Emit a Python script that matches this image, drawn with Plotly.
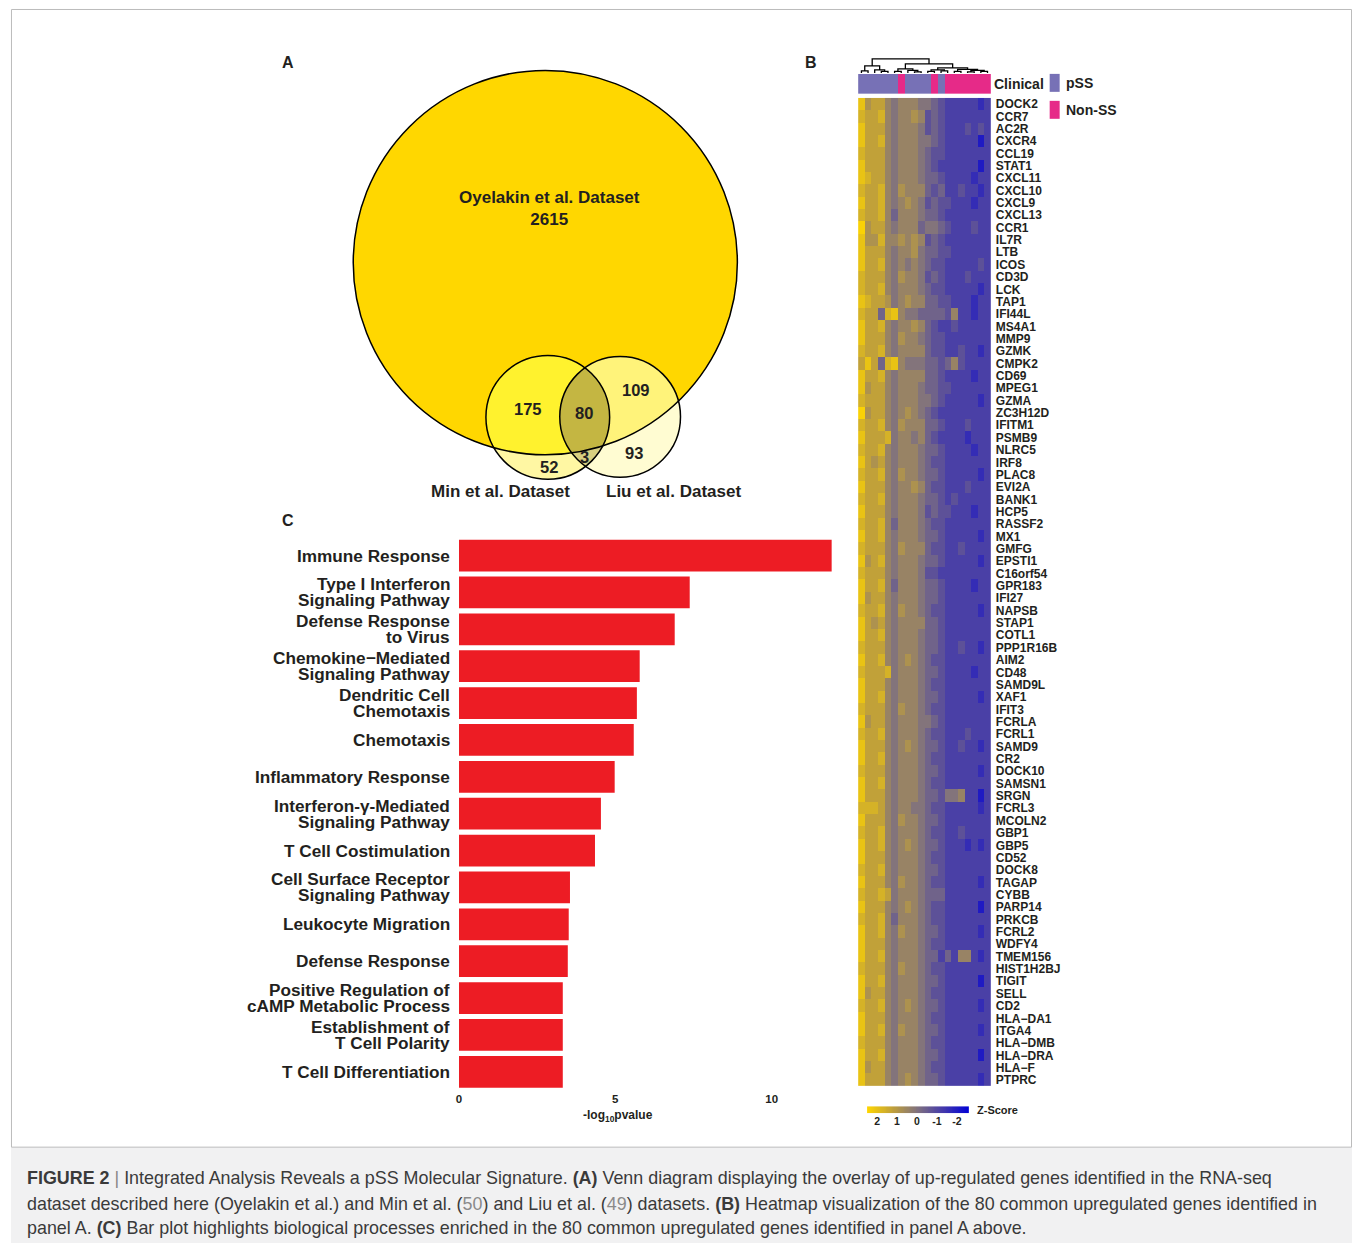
import numpy as np
import plotly.graph_objects as go

W, H = 1354, 1244
FONT = "Liberation Sans, Arial, sans-serif"
INK = "#231f20"


def fx(p):
    return p / W


def fy(p):
    return 1 - p / H


# ---------------- Panel A: three-way Venn ----------------
SET_NAMES = ["Oyelakin et al. Dataset", "Min et al. Dataset", "Liu et al. Dataset"]
OYELAKIN_ONLY = 2615
# region -> gene count, (in Oyelakin, in Min, in Liu)
REGION_KEYS = [(1, 1, 0), (1, 0, 1), (1, 1, 1), (0, 1, 0), (0, 0, 1), (0, 1, 1)]
REGION_COUNTS = [175, 109, 80, 52, 93, 3]
REGION_COLORS = ["#fff22e", "#fff37a", "#c4b642", "#fff7a3", "#fffcd2", "#d8cf80"]
REGION_LABEL_XY = [(526, 409), (634, 390), (582, 413), (547, 467), (632, 453), (583, 457)]
# circle geometry (x, y, r) in the Venn panel's pixel frame
CIRCLES = [(543.5, 262.0, 192.5), (546.0, 417.0, 62.0), (618.5, 416.5, 60.5)]
BIG_FILL = "#ffd700"

# ---------------- Panel B: heatmap ----------------
GENES = ["DOCK2", "CCR7", "AC2R", "CXCR4", "CCL19", "STAT1", "CXCL11", "CXCL10", "CXCL9",
         "CXCL13", "CCR1", "IL7R", "LTB", "ICOS", "CD3D", "LCK", "TAP1", "IFI44L", "MS4A1",
         "MMP9", "GZMK", "CMPK2", "CD69", "MPEG1", "GZMA", "ZC3H12D", "IFITM1", "PSMB9",
         "NLRC5", "IRF8", "PLAC8", "EVI2A", "BANK1", "HCP5", "RASSF2", "MX1", "GMFG",
         "EPSTI1", "C16orf54", "GPR183", "IFI27", "NAPSB", "STAP1", "COTL1", "PPP1R16B",
         "AIM2", "CD48", "SAMD9L", "XAF1", "IFIT3", "FCRLA", "FCRL1", "SAMD9", "CR2",
         "DOCK10", "SAMSN1", "SRGN", "FCRL3", "MCOLN2", "GBP1", "GBP5", "CD52", "DOCK8",
         "TAGAP", "CYBB", "PARP14", "PRKCB", "FCRL2", "WDFY4", "TMEM156", "HIST1H2BJ",
         "TIGIT", "SELL", "CD2", "HLA\u2212DA1", "ITGA4", "HLA\u2212DMB", "HLA\u2212DRA",
         "HLA\u2212F", "PTPRC"]

# clinical group of each sample column (dendrogram order)
CLINICAL = ["pSS"] * 6 + ["Non-SS"] + ["pSS"] * 4 + ["Non-SS"] + ["pSS"] + ["Non-SS"] * 7
GROUP_COLORS = {"pSS": "#7771b6", "Non-SS": "#e62a88"}

# z-score per cell, one character per sample (see Z_LEVEL)
Z_LEVEL = {"0": -2.0, "1": -1.6, "2": -1.15, "3": -0.75, "4": -0.35, "5": 0.05,
           "6": 0.45, "7": 0.85, "8": 1.25, "9": 1.65, "A": 2.05, "B": 2.4}
HEAT_ROWS = [
    "A7886566655432222212", "98896566763432222222", "A8886566653432223232",
    "A8896566655432222202", "98886566654332222222", "A8886566654322222202",
    "A9886566654432222122", "98896576664342232212", "A8896567653433222122",
    "98896466654432222222", "B7886566645543222322", "A7796676763432222222",
    "A8886566754433222222", "A8896565654332222232", "98886576653432223222",
    "98896566654332222212", "A9887567664433222122", "98849A65544443622122",
    "A8896566764322322222", "A8886576654332222222", "98896566664332232212",
    "8A849A65554434632222", "A8896566664432222122", "A7886566654433222222",
    "98886566655432222212", "B7886567654322222222", "98896576664432223222",
    "A8889566564322221222", "98896566654432222122", "A8786566654332222222",
    "98896576654432222212", "A8886566764332223222", "98896566654432322222",
    "A8886566653433222122", "98896466654332222222", "A8896566654432222212",
    "98886576664332232222", "A7896566654432222212", "98886566653322222222",
    "A8896466654432222122", "A7886566654432222222", "98896576654332222212",
    "A8786566664432222222", "A8896566654432222222", "98886566654432232212",
    "A8896567654332222222", "98889566654432222122", "A8886566654332222222",
    "A8896566654432222212", "98886576654332222222", "A7886566655432222222",
    "98896566654332223222", "A8886567654432232212", "A8896566654332222222",
    "98886566654432222212", "A8896566654332222222", "A8886566654435562202",
    "99986566554332222212", "A8886576654432222222", "98896566654332232222",
    "A8896567654432221212", "A8886566654332222222", "98896566654432222222",
    "A8886576654332222212", "98898566654442222222", "A8886567654332222202",
    "98896466654332222222", "A8896576654432222212", "A8886566654332222222",
    "A8896566654424266212", "98886576654332222222", "A8896566654432222202",
    "A7886566654332222222", "98896567654432222212", "A8886566654332222222",
    "A8896576654432222212", "98886566654332222222", "A8896566654432222202",
    "A7886566654332222222", "A8886567654432222212",
]
Z_RANGE = (-2.6, 2.5)
HEAT_SCALE = [[0.0, "rgb(0,0,215)"], [0.25, "rgb(66,56,172)"], [0.5, "rgb(126,112,128)"],
              [0.75, "rgb(192,160,58)"], [1.0, "rgb(255,214,0)"]]
COLORBAR_TICKS = [2, 1, 0, -1, -2]

# column dendrogram: (height, left, right); leaves are sample indices
DENDRO = (14, (7, (2, 0, 1), (3, 2, (1.5, 3, 4))),
          (9, (4, (1.5, 5, 6), (2.5, 7, (1, 8, 9))),
           (5, (3, (1.5, 10, 11), (2, 12, 13)),
            (3.5, (1.5, 14, 15), (2.5, (1, 16, 17), (1.5, 18, 19))))))

# ---------------- Panel C: enrichment bars ----------------
TERMS = ["Immune Response", "Type I Interferon\nSignaling Pathway",
         "Defense Response\nto Virus", "Chemokine\u2212Mediated\nSignaling Pathway",
         "Dendritic Cell\nChemotaxis", "Chemotaxis", "Inflammatory Response",
         "Interferon-\u03b3-Mediated\nSignaling Pathway", "T Cell Costimulation",
         "Cell Surface Receptor\nSignaling Pathway", "Leukocyte Migration",
         "Defense Response", "Positive Regulation of\ncAMP Metabolic Process",
         "Establishment of\nT Cell Polarity", "T Cell Differentiation"]
NEG_LOG10_P = [11.92, 7.38, 6.9, 5.78, 5.69, 5.59, 4.98, 4.54, 4.35, 3.55, 3.51, 3.48,
               3.32, 3.32, 3.32]
BAR_TICKS = [0, 5, 10]

fig = go.Figure()
annotations = []
shapes = []


def note(text, x, y, size, xref="paper", yref="paper", xanchor="center", yanchor="middle",
         color=INK, bold=True, **kw):
    annotations.append(dict(text=f"<b>{text}</b>" if bold else text, x=x, y=y, xref=xref,
                            yref=yref, xanchor=xanchor, yanchor=yanchor, showarrow=False,
                            font=dict(family=FONT, size=size, color=color), **kw))


# ---- Venn: regions rasterised at 1 px, outlines as vector circles ----
x_lo, x_hi, y_lo, y_hi = 480, 684, 350, 484
xs = np.arange(x_lo, x_hi) + 0.5
ys = np.arange(y_lo, y_hi) + 0.5
XX, YY = np.meshgrid(xs, ys)
inside = [((XX - cx) ** 2 + (YY - cy) ** 2) <= r * r for cx, cy, r in CIRCLES]
region = np.full(XX.shape, np.nan)
for k, (g, m, l) in enumerate(REGION_KEYS):
    mask = (inside[0] == bool(g)) & (inside[1] == bool(m)) & (inside[2] == bool(l))
    region[mask] = k
n_reg = len(REGION_COLORS)
venn_scale = []
for k, c in enumerate(REGION_COLORS):
    venn_scale += [[k / n_reg, c], [(k + 1) / n_reg, c]]
fig.add_trace(go.Heatmap(z=region, x0=x_lo + 0.5, dx=1, y0=y_lo + 0.5, dy=1,
                         colorscale=venn_scale, zmin=-0.5, zmax=n_reg - 0.5,
                         showscale=False, hoverinfo="skip", zsmooth=False,
                         xaxis="x3", yaxis="y3"))
for i, (cx, cy, r) in enumerate(CIRCLES):
    if i == 0:
        shapes.append(dict(type="circle", xref="x3", yref="y3", x0=cx - r, x1=cx + r,
                           y0=cy - r, y1=cy + r, fillcolor=BIG_FILL, line_width=0,
                           layer="below"))
    shapes.append(dict(type="circle", xref="x3", yref="y3", x0=cx - r, x1=cx + r,
                       y0=cy - r, y1=cy + r, line=dict(color="black", width=1.5),
                       layer="above"))

note(f"{SET_NAMES[0]}<br>{OYELAKIN_ONLY}", 548, 208, 17, xref="x3", yref="y3")
for (lx, ly), cnt in zip(REGION_LABEL_XY, REGION_COUNTS):
    note(str(cnt), lx, ly, 16.5, xref="x3", yref="y3")
note(SET_NAMES[1], fx(499), fy(491), 17)
note(SET_NAMES[2], fx(672), fy(491), 17)

# ---- Heatmap ----
z = [[Z_LEVEL[ch] for ch in row] for row in HEAT_ROWS]
assert len(z) == len(GENES) and all(len(r) == len(CLINICAL) for r in z)
fig.add_trace(go.Heatmap(z=z, y=GENES, x=list(range(len(CLINICAL))), colorscale=HEAT_SCALE,
                         zmin=Z_RANGE[0], zmax=Z_RANGE[1], showscale=False,
                         xaxis="x2", yaxis="y2", hoverinfo="skip"))

groups = list(GROUP_COLORS)
clin_scale = [[0, GROUP_COLORS[groups[0]]], [0.5, GROUP_COLORS[groups[0]]],
              [0.5, GROUP_COLORS[groups[1]]], [1, GROUP_COLORS[groups[1]]]]
fig.add_trace(go.Heatmap(z=[[groups.index(g) for g in CLINICAL]],
                         x=list(range(len(CLINICAL))), colorscale=clin_scale, zmin=0,
                         zmax=1, showscale=False, xaxis="x2", yaxis="y4",
                         hoverinfo="skip"))

# dendrogram segments
seg_x, seg_y = [], []


def walk(node):
    if isinstance(node, int):
        return float(node), 0.0
    h, left, right = node
    cl, hl = walk(left)
    cr, hr = walk(right)
    seg_x.extend([cl, cl, cr, cr, None])
    seg_y.extend([hl, h, h, hr, None])
    return (cl + cr) / 2, h


walk(DENDRO)
fig.add_trace(go.Scatter(x=seg_x, y=seg_y, mode="lines", line=dict(color="black", width=1.3),
                         xaxis="x2", yaxis="y5", hoverinfo="skip"))

# colour key for z-scores
key_vals = np.linspace(Z_RANGE[0], Z_RANGE[1], 120)
fig.add_trace(go.Heatmap(z=[key_vals], x=key_vals, colorscale=HEAT_SCALE, zmin=Z_RANGE[0],
                         zmax=Z_RANGE[1], showscale=False, xaxis="x6", yaxis="y6",
                         hoverinfo="skip"))
note("Z-Score", fx(974), fy(1111), 11, xanchor="left")

note("Clinical", fx(991), fy(83), 14, xanchor="left")
for (gname, ytop) in [("pSS", 73), ("Non-SS", 100)]:
    shapes.append(dict(type="rect", xref="paper", yref="paper", x0=fx(1049), x1=fx(1059),
                       y0=fy(ytop + 18), y1=fy(ytop), fillcolor=GROUP_COLORS[gname],
                       line_width=0))
    note(gname, fx(1063), fy(ytop + 9), 14, xanchor="left")

# ---- Bar chart ----
term_keys = [t.replace("\n", " ") for t in TERMS]
fig.add_trace(go.Bar(x=NEG_LOG10_P, y=term_keys, orientation="h", marker_color="#ed1c24",
                     marker_line_width=0, width=0.86, xaxis="x", yaxis="y",
                     hoverinfo="skip"))
for t, key in zip(TERMS, term_keys):
    lines = t.split("\n")
    offs = [0] if len(lines) == 1 else [8, -8]
    for line, off in zip(lines, offs):
        note(line, fx(450), key, 17.2, yref="y", xanchor="right", yshift=off)
note("-log<sub>10</sub>pvalue", fx(616), fy(1117), 12)

# panel letters
note("A", fx(286), fy(62), 16)
note("B", fx(810), fy(62), 16)
note("C", fx(286), fy(520), 16)

# frame and caption
shapes.append(dict(type="rect", xref="paper", yref="paper", x0=fx(8), x1=fx(1352),
                   y0=fy(1244), y1=fy(1148), fillcolor="#f1f1f2", line_width=0,
                   layer="below"))
shapes.append(dict(type="rect", xref="paper", yref="paper", x0=fx(8.5), x1=fx(1351.5),
                   y0=fy(1148), y1=fy(8.5), line=dict(color="#bcbcbc", width=1),
                   layer="below"))
CAPTION = [
    "<b>FIGURE 2</b> <span style='color:#888'>|</span> Integrated Analysis Reveals a pSS "
    "Molecular Signature. <b>(A)</b> Venn diagram displaying the overlay of up-regulated "
    "genes identified in the RNA-seq",
    "dataset described here (Oyelakin et al.) and Min et al. (<span style='color:#8a8a8a'>50"
    "</span>) and Liu et al. (<span style='color:#8a8a8a'>49</span>) datasets. <b>(B)</b> "
    "Heatmap visualization of the 80 common upregulated genes identified in",
    "panel A. <b>(C)</b> Bar plot highlights biological processes enriched in the 80 common "
    "upregulated genes identified in panel A above.",
]
for line, ypx in zip(CAPTION, [1179, 1205, 1229]):
    note(line, fx(22), fy(ypx), 17.9, xanchor="left", color="#3a3a3a", bold=False)

hidden = dict(showgrid=False, zeroline=False, showticklabels=False, ticks="",
              showline=False)
fig.update_layout(
    width=W, height=H, margin=dict(l=0, r=0, t=0, b=0, pad=0),
    paper_bgcolor="white", plot_bgcolor="rgba(0,0,0,0)", showlegend=False,
    font=dict(family=FONT, color=INK),
    # bar chart
    xaxis=dict(domain=[fx(457), fx(833)], range=[0, 12], tickvals=BAR_TICKS,
               ticktext=[f"<b>{v}</b>" for v in BAR_TICKS], tickfont=dict(size=11.5),
               showgrid=False, zeroline=False, showline=False, ticks="", anchor="y"),
    yaxis=dict(domain=[fy(1091), fy(537)], categoryorder="array",
               categoryarray=term_keys, autorange="reversed", anchor="x", **hidden),
    # heatmap body
    xaxis2=dict(domain=[fx(857), fx(990)], range=[-0.5, len(CLINICAL) - 0.5], anchor="y2",
                **hidden),
    yaxis2=dict(domain=[fy(1087), fy(97)], autorange="reversed", anchor="x2", side="right",
                showgrid=False, zeroline=False, ticks="", showline=False,
                tickfont=dict(size=12, weight="bold", color=INK), ticklabelstandoff=4,
                tickmode="array", tickvals=GENES, ticktext=GENES),
    # Venn frame in pixel units
    xaxis3=dict(domain=[fx(340), fx(760)], range=[340, 760], anchor="y3", **hidden),
    yaxis3=dict(domain=[fy(510), fy(40)], range=[510, 40], anchor="x3", **hidden),
    # clinical strip and dendrogram
    yaxis4=dict(domain=[fy(93), fy(73)], range=[-0.5, 0.5], anchor="x2", **hidden),
    yaxis5=dict(domain=[fy(72), fy(56)], range=[0, 16], anchor="x2", **hidden),
    # z-score key
    xaxis6=dict(domain=[fx(866), fx(968)], range=[Z_RANGE[1], Z_RANGE[0]], anchor="y6",
                tickvals=COLORBAR_TICKS, ticktext=[f"<b>{v}</b>" for v in COLORBAR_TICKS],
                tickfont=dict(size=10.5), ticks="", showgrid=False, zeroline=False,
                showline=False),
    yaxis6=dict(domain=[fy(1114), fy(1107)], range=[-0.5, 0.5], anchor="x6", **hidden),
    annotations=annotations, shapes=shapes,
)

fig.write_html("out.html")
